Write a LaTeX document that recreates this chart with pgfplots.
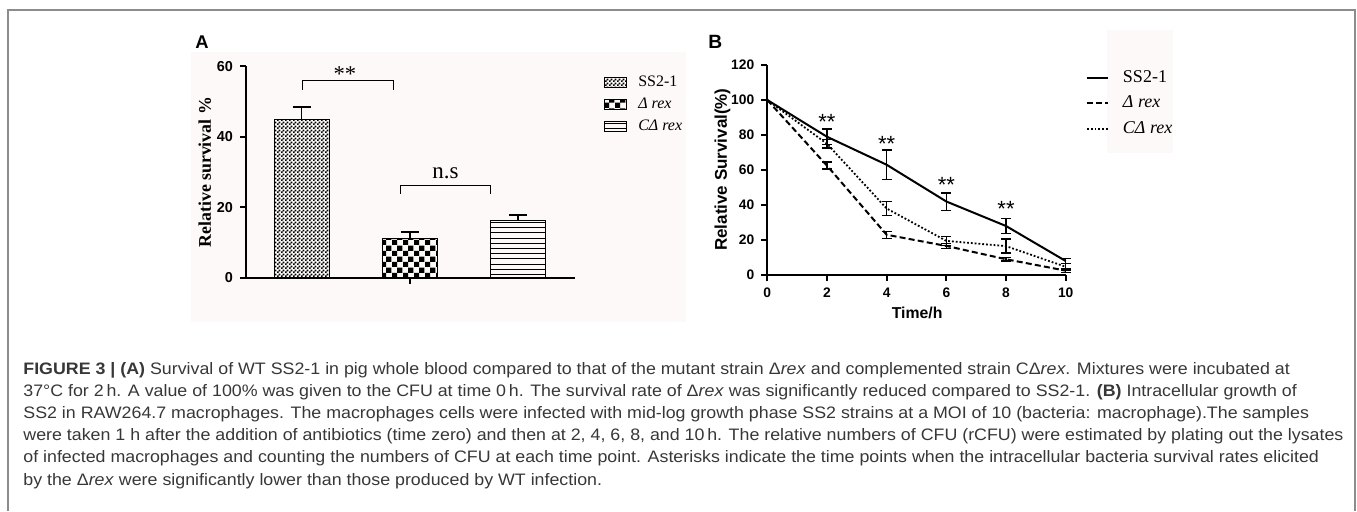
\documentclass[border=0pt]{standalone}
\usepackage{fontspec}
\setmainfont{Liberation Sans}
\newfontfamily\tnr{Liberation Serif}
\newfontfamily\capfont{Liberation Sans}[FakeStretch=1.073]
\usepackage{pgfplots}
\pgfplotsset{compat=1.18}
\usetikzlibrary{patterns}

\definecolor{bgpink}{RGB}{253,249,248}
\definecolor{framegray}{RGB}{140,140,140}
\definecolor{captxt}{RGB}{55,55,55}

% bar fills: fine checks, coarse checks, horizontal lines
\pgfdeclarepatternformonly{finecheck}{\pgfpointorigin}{\pgfpoint{1.8pt}{1.8pt}}{\pgfpoint{1.8pt}{1.8pt}}{%
  \pgfpathrectangle{\pgfpointorigin}{\pgfpoint{0.9pt}{0.9pt}}%
  \pgfpathrectangle{\pgfpoint{0.9pt}{0.9pt}}{\pgfpoint{0.9pt}{0.9pt}}%
  \pgfusepath{fill}}
\pgfdeclarepatternformonly{bigcheck}{\pgfpointorigin}{\pgfpoint{5.3pt}{5.3pt}}{\pgfpoint{5.3pt}{5.3pt}}{%
  \pgfpathrectangle{\pgfpointorigin}{\pgfpoint{2.65pt}{2.65pt}}%
  \pgfpathrectangle{\pgfpoint{2.65pt}{2.65pt}}{\pgfpoint{2.65pt}{2.65pt}}%
  \pgfusepath{fill}}
\pgfdeclarepatternformonly{hlines}{\pgfpoint{-0.1pt}{0pt}}{\pgfpoint{10.1pt}{2.6pt}}{\pgfpoint{10pt}{2.6pt}}{%
  \pgfsetlinewidth{0.5pt}%
  \pgfpathmoveto{\pgfpoint{-0.1pt}{1.3pt}}\pgfpathlineto{\pgfpoint{10.1pt}{1.3pt}}%
  \pgfusepath{stroke}}

\pgfplotsset{
  barkey/.style={legend image code/.code={\draw[##1] (0pt,-2.5pt) rectangle (11pt,2.5pt);}},
  bar err/.style={error bars/.cd, y dir=plus, y explicit,
    error bar style={line width=0.8pt, black},
    error mark options={rotate=90, mark size=4.5pt, line width=0.8pt, black}},
  time err/.style={draw=none, mark=none, forget plot,
    error bars/.cd, y dir=both, y explicit,
    error bar style={line width=0.75pt, draw=black, solid},
    error mark options={rotate=90, mark size=2.5pt, line width=0.75pt, draw=black, solid}},
}

\begin{document}
\begin{tikzpicture}
% backgrounds and frame
\fill[bgpink] (95.5pt,94.5pt) rectangle (343pt,229.5pt);
\fill[bgpink] (553.5pt,179pt) rectangle (586.5pt,240.5pt);
\draw[framegray, line width=1pt] (3.75pt,0pt) -- (3.75pt,250.5pt) -- (677.5pt,250.5pt) -- (677.5pt,0pt);

\node[anchor=base west, inner sep=0pt, font=\fontsize{9.2}{10}\selectfont\bfseries] at (97.5pt,231.5pt) {A};
\node[anchor=base west, inner sep=0pt, font=\fontsize{9.6}{10}\selectfont\bfseries] at (354pt,231.5pt) {B};

%% panel A: survival in whole blood
\begin{axis}[
  at={(123pt,116.5pt)}, anchor=south west,
  scale only axis, width=164.5pt, height=105.8pt,
  xmin=0.487, xmax=3.527, ymin=0, ymax=60,
  axis x line*=bottom, axis y line*=left,
  axis line style={line width=1pt},
  xtick={2}, xticklabels={},
  ytick={0,20,40,60},
  tick align=outside, major tick length=3pt,
  tick style={line width=1pt, black},
  ticklabel style={font=\fontsize{7.2}{8}\selectfont\bfseries},
  /pgf/number format/assume math mode=true,
  ylabel={Relative survival \%},
  ylabel style={font=\fontsize{8.9}{10}\selectfont\tnr\bfseries, at={(axis description cs:-0.125,0.5)}, anchor=center},
  ybar, bar width=27.5pt,
  clip=false,
  legend cell align=left,
  legend style={draw=none, fill=none, at={(axis description cs:1.088,0.959)}, anchor=north west,
    inner sep=0pt, outer sep=0pt, row sep=4pt,
    font=\fontsize{8}{9}\selectfont\tnr,
    nodes={inner sep=0pt, text height=5.5pt, text depth=1.5pt},
    /tikz/every odd column/.append style={column sep=5.65pt}},
]
\addplot[bar shift=0pt, draw=black, line width=0.5pt, pattern=finecheck, barkey, bar err]
  coordinates {(1,44.9) +- (0,3.6)};
\addlegendentry{SS2-1}
\addplot[bar shift=0pt, draw=black, line width=0.5pt, pattern=bigcheck, barkey, bar err]
  coordinates {(2,11.1) +- (0,1.9)};
\addlegendentry{\textit{Δ rex}}
\addplot[bar shift=0pt, draw=black, line width=0.5pt, pattern=hlines, barkey, bar err]
  coordinates {(3,16.3) +- (0,1.6)};
\addlegendentry{\textit{CΔ rex}}
% significance brackets
\draw[line width=0.55pt] (axis cs:1.011,53.4) -- (axis cs:1.011,55.9) -- (axis cs:1.854,55.9) -- (axis cs:1.854,53.4);
\draw[line width=0.55pt] (axis cs:1.916,23.9) -- (axis cs:1.916,26.2) -- (axis cs:2.75,26.2) -- (axis cs:2.75,23.9);
\node[anchor=base, inner sep=0pt, font=\fontsize{11.3}{12}\selectfont\tnr] at (axis cs:1.40,55.8) {**};
\node[anchor=base, inner sep=0pt, font=\fontsize{11.5}{12}\selectfont\tnr] at (axis cs:2.33,28.3) {n.s};
\end{axis}

%% panel B: intracellular survival over time
\begin{axis}[
  at={(383.65pt,118pt)}, anchor=south west,
  scale only axis, width=149.2pt, height=105pt,
  xmin=0, xmax=10, ymin=0, ymax=120,
  axis x line*=bottom, axis y line*=left,
  axis line style={line width=1pt},
  xtick={0,2,...,10}, ytick={0,20,...,120},
  tick align=outside, major tick length=3pt,
  tick style={line width=1pt, black},
  ticklabel style={font=\fontsize{6.9}{8}\selectfont\bfseries},
  /pgf/number format/assume math mode=true,
  xlabel={Time/h}, ylabel={Relative Survival(\%)},
  xlabel style={font=\fontsize{7.9}{9}\selectfont\bfseries, at={(axis description cs:0.502,-0.181)}, anchor=center},
  ylabel style={font=\fontsize{8.5}{10}\selectfont\bfseries, at={(axis description cs:-0.15,0.502)}, anchor=center},
  clip=false,
  legend cell align=left,
  legend image code/.code={\draw[#1] (0pt,0pt) -- (10.5pt,0pt);},
  legend style={draw=none, fill=none, at={(axis description cs:1.068,0.979)}, anchor=north west,
    inner sep=0pt, outer sep=0pt, row sep=4.25pt,
    font=\fontsize{9}{10}\selectfont\tnr,
    nodes={inner sep=0pt, text height=6.5pt, text depth=2pt},
    /tikz/every odd column/.append style={column sep=7pt}},
]
\addplot[black, line width=1pt] coordinates {(0,100) (2,79) (4,63) (6,42) (8,28) (10,8)};
\addlegendentry{SS2-1}
\addplot[black, line width=1pt, dash pattern=on 3pt off 1.6pt] coordinates {(0,100) (2,62.5) (4,23) (6,16.6) (8,9) (10,2.5)};
\addlegendentry{\textit{Δ rex}}
\addplot[black, line width=0.9pt, dash pattern=on 0.9pt off 1pt] coordinates {(0,100) (2,75) (4,38) (6,19.5) (8,16.5) (10,4.7)};
\addlegendentry{\textit{CΔ rex}}
% error bars (no bar at time zero)
\addplot[time err] coordinates {(2,79) +- (0,4.5) (4,63) +- (0,8.3) (6,42) +- (0,5) (8,28) +- (0,4.4) (10,8) +- (0,1.5)};
\addplot[time err] coordinates {(2,62.5) +- (0,2) (4,23) +- (0,2) (6,16.6) +- (0,1.5) (8,9) +- (0,1) (10,2.5) +- (0,1)};
\addplot[time err] coordinates {(2,75) +- (0,2.5) (4,38) +- (0,4) (6,19.5) +- (0,2.5) (8,16.5) +- (0,4) (10,4.7) +- (0,2)};
\node[anchor=base, inner sep=0pt, font=\fontsize{11}{12}\selectfont] at (axis cs:2,83.1) {**};
\node[anchor=base, inner sep=0pt, font=\fontsize{11}{12}\selectfont] at (axis cs:4,70.8) {**};
\node[anchor=base, inner sep=0pt, font=\fontsize{11}{12}\selectfont] at (axis cs:6,47.4) {**};
\node[anchor=base, inner sep=0pt, font=\fontsize{11}{12}\selectfont] at (axis cs:8,33.7) {**};
\end{axis}

%% caption
\begin{scope}[every node/.style={anchor=base west, inner sep=0pt, font=\capfont\fontsize{8.3}{10}\selectfont, text=captxt}]
\node at (11.5pt,68.5pt) {\textbf{FIGURE 3 | (A)} Survival of WT SS2-1 in pig whole blood compared to that of the mutant strain Δ\textit{rex} and complemented strain CΔ\textit{rex}. Mixtures were incubated at};
\node at (11.5pt,57.4pt) {37°C for 2\,h. A value of 100\% was given to the CFU at time 0\,h. The survival rate of Δ\textit{rex} was significantly reduced compared to SS2-1. \textbf{(B)} Intracellular growth of};
\node at (11.5pt,46.3pt) {SS2 in RAW264.7 macrophages. The macrophages cells were infected with mid-log growth phase SS2 strains at a MOI of 10 (bacteria: macrophage).The samples};
\node at (11.5pt,35.2pt) {were taken 1 h after the addition of antibiotics (time zero) and then at 2, 4, 6, 8, and 10\,h. The relative numbers of CFU (rCFU) were estimated by plating out the lysates};
\node at (11.5pt,24.1pt) {of infected macrophages and counting the numbers of CFU at each time point. Asterisks indicate the time points when the intracellular bacteria survival rates elicited};
\node at (11.5pt,13.0pt) {by the Δ\textit{rex} were significantly lower than those produced by WT infection.};
\end{scope}

\pgfresetboundingbox
\path[use as bounding box] (0pt,0pt) rectangle (678.5pt,255.5pt);
\end{tikzpicture}
\end{document}
